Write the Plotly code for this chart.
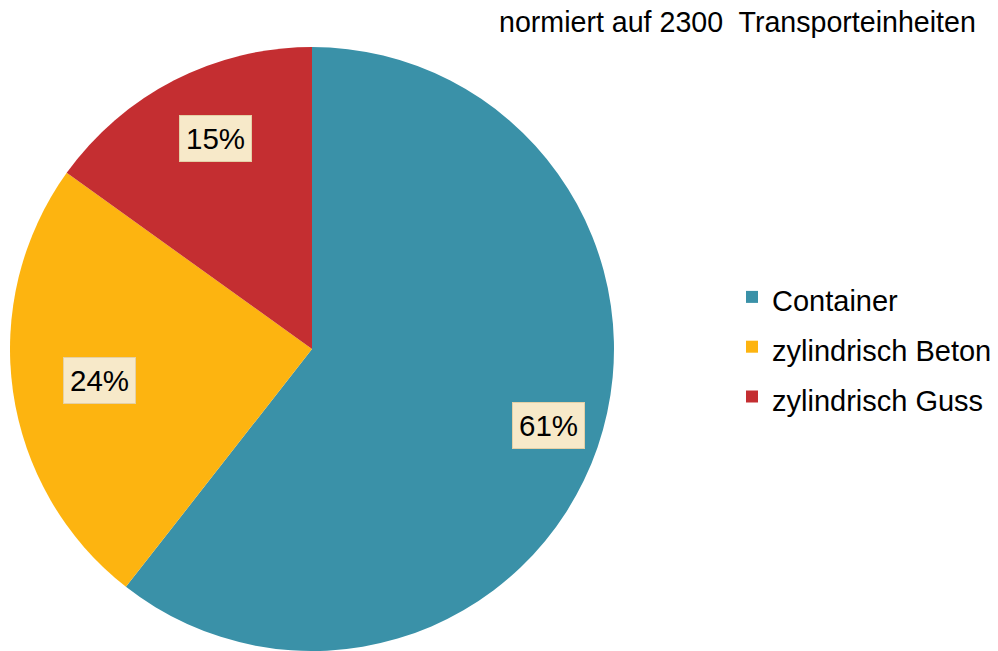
import math
import plotly.graph_objects as go

categories = ["Container", "zylindrisch Beton", "zylindrisch Guss"]
values = [1393, 560, 347]  # Transporteinheiten, sum 2300
colors = ["#3A91A8", "#FDB410", "#C42E31"]
label_radius = [0.823, 0.71, 0.768]
label_angle_shift = [-1.1, -0.2, 2.6]
title_text = "normiert auf 2300  Transporteinheiten"

W, H = 998, 651
cx, cy, R = 312, 349, 302
dom_x = [(cx - R) / W, (cx + R) / W]
dom_y = [1 - (cy + R) / H, 1 - (cy - R) / H]

fig = go.Figure(go.Pie(
    labels=[f'<span style="font-size:29px">{c}</span>' for c in categories],
    values=values,
    sort=False,
    direction="clockwise",
    rotation=0,
    marker=dict(colors=colors, line=dict(width=0)),
    textinfo="none",
    hoverinfo="percent",
    domain=dict(x=dom_x, y=dom_y),
))

total = sum(values)
annotations = []
cum = 0
for v, rf, da in zip(values, label_radius, label_angle_shift):
    mid = (cum + v / 2) / total * 2 * math.pi + math.radians(da)
    cum += v
    px = cx + rf * R * math.sin(mid)
    py = cy - rf * R * math.cos(mid)
    annotations.append(dict(
        x=px / W, y=1 - py / H, xref="paper", yref="paper",
        text=f"{round(v / total * 100)}%", showarrow=False,
        font=dict(family="Liberation Sans, Arial", size=29.5, color="#000000"),
        bgcolor="#F7E9C9", borderpad=6, bordercolor="#E4D0A6", borderwidth=1,
        xanchor="center", yanchor="middle",
    ))

annotations.append(dict(
    x=978 / W, y=1 - 22 / H, xref="paper", yref="paper",
    text=title_text, showarrow=False,
    font=dict(family="Liberation Sans, Arial", size=28.6, color="#000000"),
    xanchor="right", yanchor="middle",
))

fig.update_layout(
    width=W, height=H,
    margin=dict(l=0, r=0, t=0, b=0),
    paper_bgcolor="white", plot_bgcolor="white",
    showlegend=True,
    legend=dict(
        x=732 / W, y=1 - 347 / H, xanchor="left", yanchor="middle",
        font=dict(family="Liberation Sans, Arial", size=36, color="#000000"),
        itemsizing="constant", tracegroupgap=0,
    ),
    annotations=annotations,
)

fig.write_html("out.html", config={"displayModeBar": False},
               post_script="document.body.style.margin='0';")
